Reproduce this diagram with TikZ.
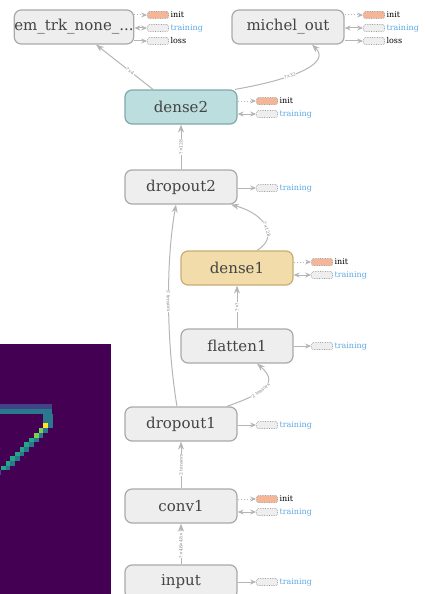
\documentclass[tikz,border=0pt]{standalone}
\usepackage{fontspec}
\usetikzlibrary{arrows.meta}
\newfontfamily\layerfont{DejaVu Serif}
\newfontfamily\tagfont{DejaVu Serif}
\definecolor{boxgray}{HTML}{EEEEEE}
\definecolor{linegray}{HTML}{A9A9A9}
\definecolor{edgegray}{HTML}{B5B5B5}
\definecolor{textgray}{HTML}{444444}
\definecolor{denseteal}{HTML}{BCDEDE}
\definecolor{tealline}{HTML}{7FA9A9}
\definecolor{densesand}{HTML}{F2DCA9}
\definecolor{sandline}{HTML}{C9AC77}
\definecolor{initorange}{HTML}{F5B597}
\definecolor{trainblue}{HTML}{5BA9E3}
\definecolor{vpurple}{HTML}{440154}
\definecolor{vblue}{HTML}{414487}
\definecolor{vteal}{HTML}{2A788E}
\definecolor{vgreen}{HTML}{22A884}
\definecolor{vlime}{HTML}{7AD151}
\definecolor{vyellow}{HTML}{FDE725}

\begin{document}
\begin{tikzpicture}[x=1pt,y=-1pt,
    layer/.style={rectangle, rounded corners=7pt, draw=linegray, line width=1.2pt,
        fill=boxgray, minimum width=112pt, minimum height=34pt, inner sep=0pt,
        text=textgray, font=\layerfont\fontsize{15}{17}\selectfont},
    initbox/.style={rectangle, rounded corners=1.5pt, draw=gray!75, densely dotted,
        line width=0.7pt, fill=initorange, minimum width=21pt, minimum height=7pt,
        inner sep=0pt},
    trainbox/.style={initbox, fill=boxgray},
    tag/.style={anchor=west, inner sep=1.5pt, font=\tagfont\fontsize{8}{9}\selectfont},
    elabel/.style={sloped, inner sep=0.3pt, fill=white, text=gray,
        font=\tagfont\fontsize{4.5}{5}\selectfont}]

\useasboundingbox (0,0) rectangle (425,594);
\clip (0,0) rectangle (425,594);

% the input picture, cut by the page
\fill[vpurple] (0,344) rectangle (111,594);
\foreach \i in {0,...,10} {
    \fill[vblue] (\i*4.7,404) rectangle ++(4.7,5);
    \fill[vteal] (\i*4.7,409) rectangle ++(4.7,5);
}
\fill[vteal] (43.2,414) rectangle ++(9.4,9.4);
\foreach \i in {0,...,9} {
    \fill[vteal] (47.9-\i*4.7,423.4+\i*4.7) rectangle ++(4.7,4.7);
    \fill[vgreen] (43.2-\i*4.7,423.4+\i*4.7) rectangle ++(4.7,4.7);
    \fill[vblue] (38.5-\i*4.7,428.1+\i*4.7) rectangle ++(4.7,4.7);
}
\fill[vyellow] (43.2,423.4) rectangle ++(4.7,4.7);
\fill[vlime] (38.5,428.1) rectangle ++(4.7,4.7);
\fill[vlime] (33.8,432.8) rectangle ++(4.7,4.7);

\begin{scope}[every node/.style={layer}]
    \node (em) at (74,27) {em\_trk\_none\_...};
    \node (michel) at (288,27) {michel\_out};
    \node (dense2) at (181,107) [fill=denseteal, draw=tealline] {dense2};
    \node (dropout2) at (181,187) {dropout2};
    \node (dense1) at (237,268) [fill=densesand, draw=sandline] {dense1};
    \node (flatten1) at (237,346) {flatten1};
    \node (dropout1) at (181,424) {dropout1};
    \node (conv1) at (181,506) {conv1};
    \node (input) at (181,582) {input};
\end{scope}

% side boxes
\node (eminit) at (158,15) [initbox] {};
\node (emtrain) at (158,28) [trainbox] {};
\node (emloss) at (158,41) [trainbox] {};
\node (mninit) at (374,15) [initbox] {};
\node (mntrain) at (374,28) [trainbox] {};
\node (mnloss) at (374,41) [trainbox] {};
\node (d2init) at (267,101) [initbox] {};
\node (d2train) at (267,114) [trainbox] {};
\node (o2train) at (267,188) [trainbox] {};
\node (d1init) at (322,262) [initbox] {};
\node (d1train) at (322,275) [trainbox] {};
\node (f1train) at (322,346) [trainbox] {};
\node (o1train) at (267,425) [trainbox] {};
\node (c1init) at (267,499) [initbox] {};
\node (c1train) at (267,512) [trainbox] {};
\node (intrain) at (267,582) [trainbox] {};

\node at (eminit.east) [tag] {init};
\node at (emtrain.east) [tag, text=trainblue] {training};
\node at (emloss.east) [tag] {loss};
\node at (mninit.east) [tag] {init};
\node at (mntrain.east) [tag, text=trainblue] {training};
\node at (mnloss.east) [tag] {loss};
\node at (d2init.east) [tag] {init};
\node at (d2train.east) [tag, text=trainblue] {training};
\node at (o2train.east) [tag, text=trainblue] {training};
\node at (d1init.east) [tag] {init};
\node at (d1train.east) [tag, text=trainblue] {training};
\node at (f1train.east) [tag, text=trainblue] {training};
\node at (o1train.east) [tag, text=trainblue] {training};
\node at (c1init.east) [tag] {init};
\node at (c1train.east) [tag, text=trainblue] {training};
\node at (intrain.east) [tag, text=trainblue] {training};

\begin{scope}[>={Stealth[length=6pt,width=5pt]},
              every path/.style={draw=edgegray, line width=1pt}]
    \path [->, dotted] (em.east |- eminit) -- (eminit);
    \path [<->] (em.east |- emtrain) -- (emtrain);
    \path [->] (em.east |- emloss) -- (emloss);
    \path [->, dotted] (michel.east |- mninit) -- (mninit);
    \path [<->] (michel.east |- mntrain) -- (mntrain);
    \path [->] (michel.east |- mnloss) -- (mnloss);
    \path [->, dotted] (dense2.east |- d2init) -- (d2init);
    \path [<->] (dense2.east |- d2train) -- (d2train);
    \path [->] (dropout2.east |- o2train) -- (o2train);
    \path [->, dotted] (dense1.east |- d1init) -- (d1init);
    \path [<->] (dense1.east |- d1train) -- (d1train);
    \path [->] (flatten1.east |- f1train) -- (f1train);
    \path [->] (dropout1.east |- o1train) -- (o1train);
    \path [->, dotted] (conv1.east |- c1init) -- (c1init);
    \path [<->] (conv1.east |- c1train) -- (c1train);
    \path [->] (input.east |- intrain) -- (intrain);
\end{scope}

\begin{scope}[>={Stealth[length=8pt,width=6pt]},
              every path/.style={draw=edgegray, line width=1pt}]
    \path [->] ([xshift=-28pt]dense2.north) -- node[elabel, pos=0.4] {?×4} ([xshift=22pt]em.south);
    \path [->] ([xshift=54pt]dense2.north) .. controls (300,78) and (330,62) ..
        node[elabel, pos=0.35] {?×32} ([xshift=24pt]michel.south);
    \path [->] (dropout2) -- node[elabel] {?×128} (dense2);
    \path [->] ([xshift=20pt]dense1.north) .. controls (278,238) and (268,215) ..
        node[elabel, pos=0.45] {?×128} ([xshift=50pt]dropout2.south);
    \path [->] (flatten1) -- node[elabel] {?×?} (dense1);
    \path [->] ([xshift=46pt]dropout1.north) .. controls (258,395) and (282,385) ..
        node[elabel, pos=0.45] {2 tensors} ([xshift=20pt]flatten1.south);
    \path [->] ([xshift=-4pt]dropout1.north) .. controls (166,340) and (166,260) ..
        node[elabel] {2 tensors} ([xshift=-5pt]dropout2.south);
    \path [->] (conv1) -- node[elabel] {2 tensors} (dropout1);
    \path [->] (input) -- node[elabel] {?×48×48×1} (conv1);
\end{scope}

\end{tikzpicture}
\end{document}
